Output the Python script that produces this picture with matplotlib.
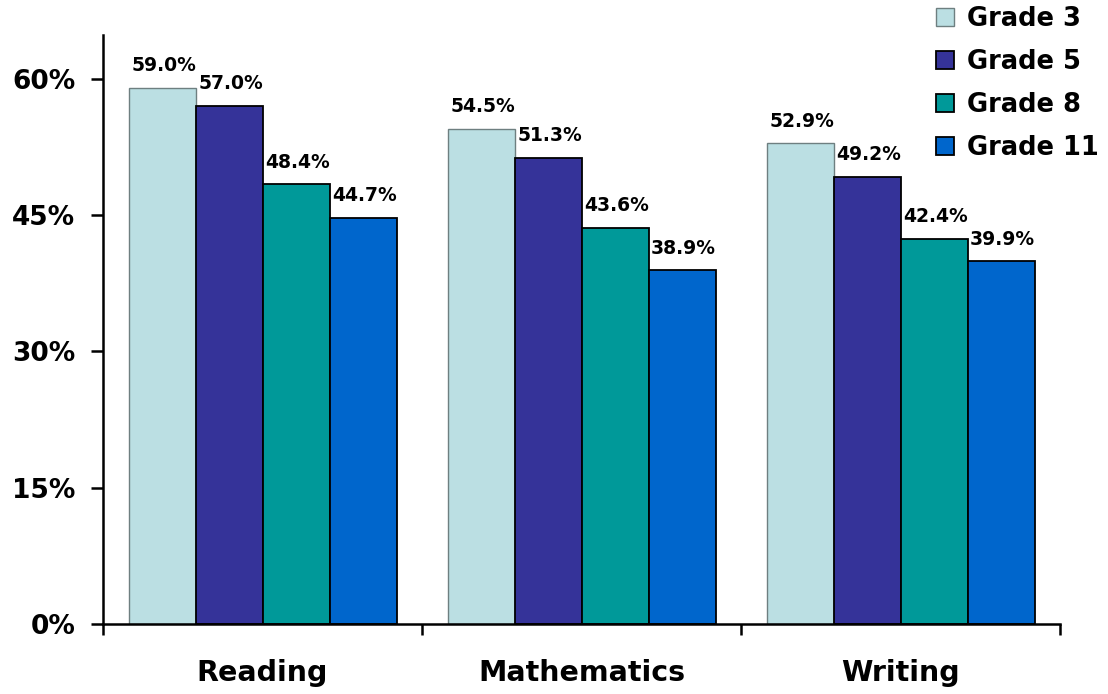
import numpy as np
import matplotlib.pyplot as plt
from matplotlib.ticker import FuncFormatter

subjects = ['Reading', 'Mathematics', 'Writing']
grades = ['Grade 3', 'Grade 5', 'Grade 8', 'Grade 11']
grade3 = [59.0, 54.5, 52.9]
grade5 = [57.0, 51.3, 49.2]
grade8 = [48.4, 43.6, 42.4]
grade11 = [44.7, 38.9, 39.9]

colors = ['#BBDFE3', '#353399', '#009999', '#0066CC']
edges = ['#6E7F80', 'black', 'black', 'black']

plt.rcParams['font.family'] = 'DejaVu Sans'
plt.rcParams['font.weight'] = 'bold'

fig = plt.figure(figsize=(11.08, 6.94), dpi=100)
ax = fig.add_axes([0.093, 0.1009, 0.8637, 0.8487])

x = np.arange(len(subjects))
w = 0.21
series = [grade3, grade5, grade8, grade11]
for i, vals in enumerate(series):
    pos = x - 1.5 * w + i * w
    bars = ax.bar(pos, vals, width=w, color=colors[i], edgecolor=edges[i],
                  linewidth=1.3 if i else 1.0, label=grades[i])
    for b, v in zip(bars, vals):
        ax.annotate('%.1f%%' % v, (b.get_x() + b.get_width() / 2 + 0.005, v),
                    xytext=(0, 9), textcoords='offset points',
                    ha='center', va='bottom', fontsize=13.5, fontweight='bold')

ax.set_xlim(-0.5, 2.5)
ax.set_ylim(0, 64.8)
ax.set_yticks([0, 15, 30, 45, 60])
ax.yaxis.set_major_formatter(FuncFormatter(lambda v, p: '%d%%' % v))
ax.tick_params(axis='y', labelsize=19, length=9, width=1.8, pad=11)

ax.set_xticks([-0.5, 0.5, 1.5, 2.5])
ax.set_xticklabels([])
ax.tick_params(axis='x', which='major', length=8, width=1.8, direction='out')
ax.set_xticks(x, minor=True)
ax.set_xticklabels(subjects, minor=True, fontsize=20.5, fontweight='bold')
ax.tick_params(axis='x', which='minor', length=0, pad=25)

for s in ['top', 'right']:
    ax.spines[s].set_visible(False)
for s in ['left', 'bottom']:
    ax.spines[s].set_linewidth(1.8)

fig.legend(loc='upper right', bbox_to_anchor=(1.008, 1.017), frameon=False,
           fontsize=18.5, handlelength=0.72, handleheight=0.72,
           handletextpad=0.5, labelspacing=0.66, borderaxespad=0.3)

fig.savefig('out.png', dpi=100)
